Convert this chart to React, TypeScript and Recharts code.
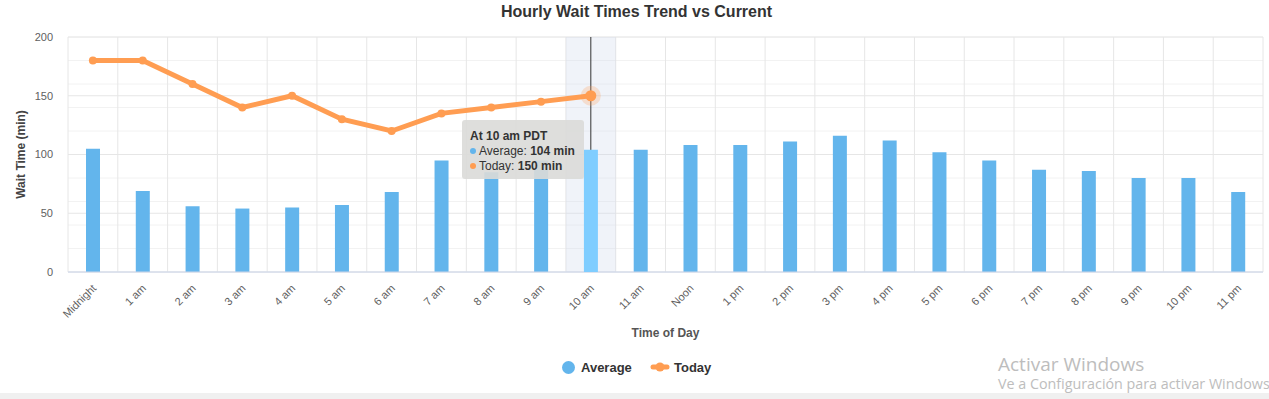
import React from 'react';
import { ComposedChart, Bar, Line, XAxis, YAxis, CartesianGrid, Tooltip, ReferenceArea, ReferenceLine } from 'recharts';

const hours = ['Midnight', '1 am', '2 am', '3 am', '4 am', '5 am', '6 am', '7 am', '8 am', '9 am', '10 am', '11 am', 'Noon', '1 pm', '2 pm', '3 pm', '4 pm', '5 pm', '6 pm', '7 pm', '8 pm', '9 pm', '10 pm', '11 pm'];
const averageWait = [105, 69, 56, 54, 55, 57, 68, 95, 85, 95, 104, 104, 108, 108, 111, 116, 112, 102, 95, 87, 86, 80, 80, 68];
const todayWait: (number | null)[] = [180, 180, 160, 140, 150, 130, 120, 135, 140, 145, 150, null, null, null, null, null, null, null, null, null, null, null, null, null];
const yTicks = [0, 50, 100, 150, 200];
const minorTicks = [0, 10, 20, 30, 40, 50, 60, 70, 80, 90, 100, 110, 120, 130, 140, 150, 160, 170, 180, 190, 200];
const activeHour = '10 am';

const data = hours.map((h, i) => ({ hour: h, average: averageWait[i], today: todayWait[i] }));
const activeIndex = hours.indexOf(activeHour);

const FONT = '"Liberation Sans", Arial, sans-serif';
const BLUE = '#63b5ec';
const BLUE_ACTIVE = '#7fcdff';
const ORANGE = '#ff9d52';

const XTick = (props: any) => {
  const { x, y, payload } = props;
  const ax = x + 4;
  const ay = y + 17;
  return (
    <text x={ax} y={ay} textAnchor="end" fontSize={11} fill="#606060" fontFamily={FONT} transform={`rotate(-45 ${ax} ${ay})`}>
      {payload.value}
    </text>
  );
};

const ActiveDot = (props: any) => {
  const { cx, cy } = props;
  if (cx == null || cy == null) return null;
  return (
    <g>
      <circle cx={cx} cy={cy} r={10} fill={ORANGE} fillOpacity={0.25} />
      <circle cx={cx} cy={cy} r={5.5} fill={ORANGE} />
    </g>
  );
};

const TipContent = (props: any) => {
  const { active, payload, label } = props;
  if (!active || !payload || !payload.length) return null;
  const avg = payload.find((p: any) => p.dataKey === 'average');
  const tod = payload.find((p: any) => p.dataKey === 'today');
  const dot = (c: string) => (
    <span style={{ display: 'inline-block', width: 6, height: 6, borderRadius: 3, background: c, marginRight: 3, verticalAlign: 'middle', position: 'relative', top: -1 }} />
  );
  return (
    <div style={{ background: 'rgba(218,218,216,0.9)', borderRadius: 3, padding: '9px 8px 0 8px', width: 122, height: 59, boxSizing: 'border-box', fontFamily: FONT, fontSize: 12, lineHeight: '15px', color: '#333', whiteSpace: 'nowrap' }}>
      <div style={{ fontWeight: 'bold' }}>At {label} PDT</div>
      {avg && avg.value != null && (
        <div>{dot(BLUE)}Average: <b>{avg.value} min</b></div>
      )}
      {tod && tod.value != null && (
        <div>{dot(ORANGE)}Today: <b>{tod.value} min</b></div>
      )}
    </div>
  );
};

export default function App() {
  return (
    <div style={{ position: 'absolute', left: 0, top: 0, width: 1269, height: 399, background: '#fff', overflow: 'hidden', fontFamily: FONT }}>
      <div style={{ position: 'absolute', left: 0, top: 2, width: 1273, textAlign: 'center', fontSize: 16, fontWeight: 'bold', color: '#333', lineHeight: '20px' }}>
        Hourly Wait Times Trend vs Current
      </div>
      <ComposedChart width={1269} height={399} data={data} margin={{ top: 37, right: 6, bottom: 0, left: 0 }} barSize={14}>
        <CartesianGrid horizontalValues={minorTicks} vertical={false} stroke="#f2f2f2" />
        <CartesianGrid
          horizontalValues={yTicks}
          stroke="#e6e6e6"
          verticalCoordinatesGenerator={({ offset }: any) =>
            hours.concat(['']).map((_, i) => offset.left + (i * offset.width) / hours.length)
          }
        />
        <XAxis
          dataKey="hour"
          height={127}
          tickSize={0}
          tickMargin={0}
          interval={0}
          axisLine={{ stroke: '#ccd6eb' }}
          tick={<XTick />}
          label={{
            content: (p: any) => {
              const vb = p.viewBox || {};
              return (
                <text x={vb.x + vb.width / 2} y={vb.y + 65} textAnchor="middle" fontSize={12} fontWeight="bold" fill="#555" fontFamily={FONT}>
                  Time of Day
                </text>
              );
            },
          }}
        />
        <YAxis
          width={68}
          domain={[0, 200]}
          ticks={yTicks}
          tickSize={0}
          tickMargin={15}
          axisLine={false}
          tickLine={false}
          tick={{ fontSize: 11, fill: '#606060', fontFamily: FONT }}
          label={{
            content: (p: any) => {
              const vb = p.viewBox || {};
              const cy = vb.y + vb.height / 2;
              return (
                <text x={25} y={cy} textAnchor="middle" fontSize={12} fontWeight="bold" fill="#444" fontFamily={FONT} transform={`rotate(-90 25 ${cy})`}>
                  Wait Time (min)
                </text>
              );
            },
          }}
        />
        <ReferenceArea x1={activeHour} x2={activeHour} y1={0} y2={200} fill="rgb(204,214,235)" fillOpacity={0.3} stroke="none" ifOverflow="visible" />
        <Tooltip
          defaultIndex={activeIndex}
          active={true}
          cursor={false}
          position={{ x: 462, y: 120 }}
          content={<TipContent />}
          isAnimationActive={false}
          wrapperStyle={{ outline: 'none' }}
        />
        <Bar dataKey="average" name="Average" fill={BLUE} activeBar={{ fill: BLUE_ACTIVE }} isAnimationActive={false} />
        <ReferenceLine x={activeHour} stroke="#333" strokeWidth={1} ifOverflow="visible" />
        <Line
          dataKey="today"
          name="Today"
          stroke={ORANGE}
          strokeWidth={5}
          dot={{ r: 4, fill: ORANGE, stroke: 'none' }}
          activeDot={<ActiveDot />}
          isAnimationActive={false}
          connectNulls={false}
        />
      </ComposedChart>

      {/* Legend */}
      <div style={{ position: 'absolute', left: 562, top: 360.5, width: 13, height: 13, borderRadius: 7, background: BLUE }} />
      <div style={{ position: 'absolute', left: 581, top: 360, fontSize: 13, lineHeight: '15px', fontWeight: 'bold', color: '#333' }}>Average</div>
      <svg style={{ position: 'absolute', left: 650, top: 360 }} width={20} height={14}>
        <line x1={3} x2={17} y1={7} y2={7} stroke={ORANGE} strokeWidth={5} strokeLinecap="round" />
        <circle cx={10} cy={7} r={4.5} fill={ORANGE} />
      </svg>
      <div style={{ position: 'absolute', left: 674, top: 360, fontSize: 13, lineHeight: '15px', fontWeight: 'bold', color: '#333' }}>Today</div>

      {/* Bottom strip and watermark */}
      <div style={{ position: 'absolute', left: 0, top: 393, width: 1269, height: 6, background: '#f0f0f0' }} />
      <div style={{ position: 'absolute', left: 998, top: 351.5, fontSize: 19, lineHeight: '24px', color: '#bdbdbd', fontFamily: '"Open Sans", "Noto Sans", sans-serif', whiteSpace: 'nowrap' }}>
        Activar Windows
      </div>
      <div style={{ position: 'absolute', left: 998, top: 375, fontSize: 14.3, lineHeight: '18px', color: '#bdbdbd', fontFamily: '"Open Sans", "Noto Sans", sans-serif', whiteSpace: 'nowrap' }}>
        Ve a Configuración para activar Windows
      </div>
    </div>
  );
}
